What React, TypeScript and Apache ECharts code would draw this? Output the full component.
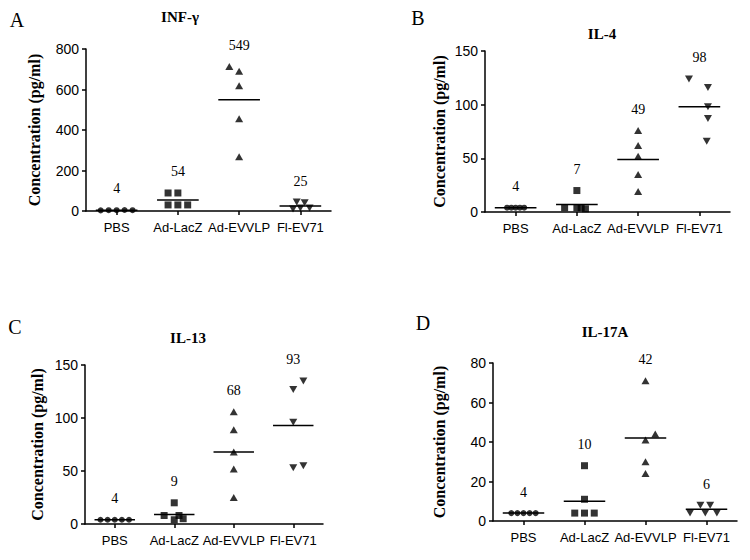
import React, { useEffect, useRef } from 'react';
import * as echarts from 'echarts';

const categories = ['PBS', 'Ad-LacZ', 'Ad-EVVLP', 'Fl-EV71'];

// Panel A: INF-γ
const valuesA = [
  [3, 4, 4, 5, 4],
  [89, 89, 30, 30, 30],
  [714, 690, 619, 455, 268],
  [44, 41, 15, 15, 10],
];
const jitterA = [
  [-0.26, -0.13, 0, 0.13, 0.26],
  [-0.16, 0, -0.16, 0, 0.16],
  [-0.16, 0, 0, 0, 0],
  [-0.06, 0.07, 0, 0.15, -0.12],
];
const meansA = [4, 54, 549, 25];

// Panel B: IL-4
const valuesB = [
  [4, 4, 4, 4, 4],
  [20, 4, 4, 4, 3],
  [76, 62, 52, 35, 19],
  [124, 116, 98, 87, 66],
];
const jitterB = [
  [-0.14, -0.07, 0, 0.07, 0.14],
  [0, -0.2, 0, 0.07, 0.14],
  [0, 0, 0, 0, 0],
  [-0.17, 0.14, 0.14, 0.14, 0.12],
];
const meansB = [4, 7, 49, 98];

// Panel C: IL-13
const valuesC = [
  [4, 4, 4, 4, 4],
  [20, 8, 8, 4, 5],
  [106, 89, 68, 52, 25],
  [127, 135, 96, 53, 55],
];
const jitterC = [
  [-0.24, -0.12, 0, 0.12, 0.24],
  [0, -0.17, 0.08, 0, 0.15],
  [0, 0, 0, 0, 0],
  [0, 0.17, 0, 0, 0.17],
];
const meansC = [4, 9, 68, 93];

// Panel D: IL-17A
const valuesD = [
  [4, 4, 4, 4, 4],
  [28, 11, 4, 4, 4],
  [71, 44, 41, 30, 24],
  [8, 8, 4, 4, 4],
];
const jitterD = [
  [-0.2, -0.1, 0, 0.1, 0.2],
  [0, 0, -0.16, 0, 0.16],
  [0, 0.16, 0, 0, 0],
  [-0.1, 0.06, -0.27, -0.02, 0.17],
];
const meansD = [4, 10, 42, 6];

const panelLetters = ['A', 'B', 'C', 'D'];
const panelTitles = ['INF-γ', 'IL-4', 'IL-13', 'IL-17A'];
const yMax = [800, 150, 150, 80];
const yInterval = [200, 50, 50, 20];
const yAxisTitle = 'Concentration (pg/ml)';

const panels = [
  { values: valuesA, jitter: jitterA, means: meansA },
  { values: valuesB, jitter: jitterB, means: meansB },
  { values: valuesC, jitter: jitterC, means: meansC },
  { values: valuesD, jitter: jitterD, means: meansD },
];

// layout
const grids = [
  { left: 86, top: 49, width: 245, height: 162 },
  { left: 485, top: 51, width: 245, height: 161 },
  { left: 85, top: 365, width: 238, height: 159 },
  { left: 493, top: 363, width: 244, height: 158 },
];
const nameGaps = [44, 38, 40, 46];
const letterPos = [[17, 20], [418, 18], [15, 327], [423, 323]];
const titlePos = [[180, 17], [602, 34], [188, 338], [605, 332]];
const labelLift = 21;

const symbols = ['circle', 'rect', 'triangle', 'triangle'];
const symbolRotates = [0, 0, 0, 180];
const symbolSizes: any[] = [6, 7, [8, 7], [8, 7]];

const axisLineStyle = { color: '#000', width: 1.5 };

function buildOption() {
  const xAxis: any[] = [];
  const yAxis: any[] = [];
  const series: any[] = [];
  const graphic: any[] = [];

  panels.forEach((p, i) => {
    xAxis.push({
      type: 'category',
      gridIndex: i,
      data: categories,
      boundaryGap: true,
      axisLine: { show: true, lineStyle: axisLineStyle },
      axisTick: { show: true, alignWithLabel: true, length: 4, lineStyle: axisLineStyle },
      axisLabel: {
        interval: 0,
        margin: 10,
        color: '#000',
        fontFamily: 'Liberation Sans',
        fontSize: 13,
      },
      splitLine: { show: false },
    });
    xAxis.push({
      type: 'value',
      gridIndex: i,
      min: 0,
      max: 4,
      show: false,
    });
    yAxis.push({
      type: 'value',
      gridIndex: i,
      min: 0,
      max: yMax[i],
      interval: yInterval[i],
      name: yAxisTitle,
      nameLocation: 'middle',
      nameRotate: 90,
      nameGap: nameGaps[i],
      nameTextStyle: {
        fontFamily: 'Liberation Serif',
        fontWeight: 'bold',
        fontSize: 16,
        color: '#000',
      },
      axisLine: { show: true, lineStyle: axisLineStyle },
      axisTick: { show: true, length: 4, lineStyle: axisLineStyle },
      axisLabel: {
        margin: 7,
        color: '#000',
        fontFamily: 'Liberation Sans',
        fontSize: 14,
      },
      splitLine: { show: false },
    });

    const xi = 2 * i + 1;

    p.values.forEach((vals, g) => {
      series.push({
        type: 'scatter',
        xAxisIndex: xi,
        yAxisIndex: i,
        symbol: symbols[g],
        symbolRotate: symbolRotates[g],
        symbolSize: symbolSizes[g],
        itemStyle: { color: '#000' },
        data: vals.map((v, k) => [g + 0.5 + p.jitter[g][k], v]),
        z: 3,
      });
    });

    // mean lines
    series.push({
      type: 'custom',
      xAxisIndex: xi,
      yAxisIndex: i,
      data: p.means.map((m, g) => [g + 0.5, m]),
      renderItem: (params: any, api: any) => {
        const x = api.value(0);
        const y = api.value(1);
        const p1 = api.coord([x - 0.34, y]);
        const p2 = api.coord([x + 0.34, y]);
        return {
          type: 'line',
          shape: { x1: p1[0], y1: p1[1], x2: p2[0], y2: p2[1] },
          style: { stroke: '#000', lineWidth: 1.5 },
        };
      },
      z: 4,
    });

    // mean value labels above each group
    series.push({
      type: 'custom',
      xAxisIndex: xi,
      yAxisIndex: i,
      data: p.values.map((vals, g) => [g + 0.5, Math.max(...vals), p.means[g]]),
      renderItem: (params: any, api: any) => {
        const pt = api.coord([api.value(0), api.value(1)]);
        return {
          type: 'text',
          x: pt[0],
          y: pt[1] - labelLift,
          style: {
            text: String(api.value(2)),
            font: '14px "Liberation Serif"',
            fill: '#000',
            textAlign: 'center',
            textVerticalAlign: 'middle',
          },
        };
      },
      z: 5,
    });

    graphic.push({
      type: 'text',
      x: letterPos[i][0],
      y: letterPos[i][1],
      style: {
        text: panelLetters[i],
        font: '20px "Liberation Serif"',
        fill: '#000',
        textAlign: 'center',
        textVerticalAlign: 'middle',
      },
    });
    graphic.push({
      type: 'text',
      x: titlePos[i][0],
      y: titlePos[i][1],
      style: {
        text: panelTitles[i],
        font: 'bold 15px "Liberation Serif"',
        fill: '#000',
        textAlign: 'center',
        textVerticalAlign: 'middle',
      },
    });
  });

  return {
    animation: false,
    backgroundColor: '#fff',
    grid: grids.map((g) => ({ ...g, containLabel: false })),
    xAxis,
    yAxis,
    series,
    graphic,
  };
}

export default function App() {
  const ref = useRef<HTMLDivElement>(null);
  useEffect(() => {
    if (!ref.current) return;
    const chart = echarts.init(ref.current, undefined, { renderer: 'svg' });
    chart.setOption(buildOption() as any);
    return () => chart.dispose();
  }, []);
  return (
    <div
      ref={ref}
      style={{ position: 'fixed', left: 0, top: 0, width: 750, height: 560, background: '#fff' }}
    />
  );
}
